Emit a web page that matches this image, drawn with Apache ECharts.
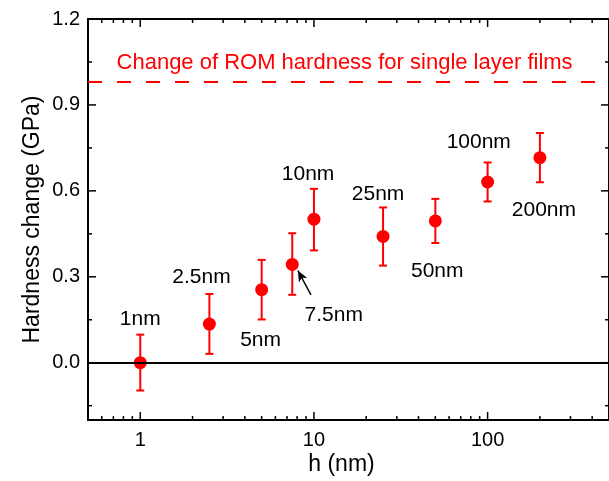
<!DOCTYPE html>
<html>
<head>
<meta charset="utf-8">
<script src="https://cdn.jsdelivr.net/npm/echarts@6/dist/echarts.min.js"></script>
<style>html,body{margin:0;padding:0;background:#fff}#chart{width:609px;height:481px}</style>
</head>
<body>
<div id="chart"></div>
<script>
// ---- data ----
const hValues   = [1, 2.5, 5, 7.5, 10, 25, 50, 100, 200];
const hardness  = [0.0, 0.135, 0.255, 0.343, 0.501, 0.441, 0.495, 0.631, 0.716];
const errUpper  = [0.098, 0.240, 0.359, 0.452, 0.607, 0.542, 0.572, 0.699, 0.802];
const errLower  = [-0.097, 0.031, 0.151, 0.237, 0.392, 0.339, 0.418, 0.563, 0.630];
const pointLabels = ['1nm', '2.5nm', '5nm', '7.5nm', '10nm', '25nm', '50nm', '100nm', '200nm'];
const labelAtH  = [1, 2.25, 4.93, 13.0, 9.25, 23.4, 51.3, 88.9, 211];
const labelAtY  = [0.153, 0.30, 0.077, 0.167, 0.659, 0.590, 0.321, 0.769, 0.532];
const romHardness = 0.98;
const romLabel = 'Change of ROM hardness for single layer films';
const romLabelAt = [0.73, 1.047];
const arrowFrom = [9.61, 0.237];
const arrowTo   = [8.08, 0.322];
const xMajorTicks = [1, 10, 100];
const xTickLabels = ['1', '10', '100'];
const xMinorTicks = [0.6, 0.7, 0.8, 0.9, 2, 3, 4, 5, 6, 7, 8, 9, 20, 30, 40, 50, 60, 70, 80, 90, 200, 300, 400];
const yMajorTicks = [0, 0.3, 0.6, 0.9, 1.2];
const yTickLabels = ['0.0', '0.3', '0.6', '0.9', '1.2'];
const yMinorTicks = [-0.15, 0.15, 0.45, 0.75, 1.05];
const xTitle = 'h (nm)';
const yTitle = 'Hardness change (GPa)';

// ---- chart ----
const FONT = '"Liberation Sans", Arial, Helvetica, sans-serif';
const RED = '#ff0000';
const chart = echarts.init(document.getElementById('chart'), null, {renderer: 'canvas'});

function xTickItem(major) {
  return function (params, api) {
    const cs = params.coordSys;
    const x = api.coord([api.value(0), 0])[0];
    const len = major ? 8 : 4;
    const bottom = cs.y + cs.height;
    const kids = [
      {type: 'line', shape: {x1: x, y1: bottom, x2: x, y2: bottom - len}, style: {stroke: '#000', lineWidth: 1.5}},
      {type: 'line', shape: {x1: x, y1: cs.y, x2: x, y2: cs.y + len}, style: {stroke: '#000', lineWidth: 1.5}}
    ];
    if (major) {
      kids.push({type: 'text', x: x, y: bottom + 20,
        style: {text: xTickLabels[params.dataIndex], font: '20px ' + FONT, fill: '#000', align: 'center', verticalAlign: 'middle'}});
    }
    return {type: 'group', children: kids};
  };
}
function yTickItem(major) {
  return function (params, api) {
    const cs = params.coordSys;
    const y = api.coord([1, api.value(1)])[1];
    const len = major ? 8 : 4;
    const right = cs.x + cs.width;
    const kids = [
      {type: 'line', shape: {x1: cs.x, y1: y, x2: cs.x + len, y2: y}, style: {stroke: '#000', lineWidth: 1.5}},
      {type: 'line', shape: {x1: right, y1: y, x2: right - len, y2: y}, style: {stroke: '#000', lineWidth: 1.5}}
    ];
    if (major) {
      kids.push({type: 'text', x: cs.x - 8, y: y,
        style: {text: yTickLabels[params.dataIndex], font: '20px ' + FONT, fill: '#000', align: 'right', verticalAlign: 'middle'}});
    }
    return {type: 'group', children: kids};
  };
}

const option = {
  animation: false,
  backgroundColor: '#fff',
  grid: {left: 88, top: 19, width: 528, height: 401, show: true, borderColor: '#000', borderWidth: 2, backgroundColor: 'transparent'},
  xAxis: {
    type: 'log', logBase: 10, min: 0.5, max: 500,
    axisLine: {show: false}, axisTick: {show: false}, axisLabel: {show: false}, splitLine: {show: false},
    name: xTitle, nameLocation: 'middle', nameGap: 33,
    nameTextStyle: {fontSize: 23, fontFamily: FONT, color: '#000', padding: [0, 14, 0, 0]}
  },
  yAxis: {
    type: 'value', min: -0.2, max: 1.2,
    axisLine: {show: false}, axisTick: {show: false}, axisLabel: {show: false}, splitLine: {show: false},
    name: yTitle, nameLocation: 'middle', nameGap: 44,
    nameTextStyle: {fontSize: 23, fontFamily: FONT, color: '#000'}
  },
  series: [
    {
      type: 'custom', name: 'xMajor', coordinateSystem: 'cartesian2d', silent: true,
      data: xMajorTicks.map(v => [v, 0]), renderItem: xTickItem(true), z: 5
    },
    {
      type: 'custom', name: 'xMinor', coordinateSystem: 'cartesian2d', silent: true,
      data: xMinorTicks.map(v => [v, 0]), renderItem: xTickItem(false), z: 5
    },
    {
      type: 'custom', name: 'yMajor', coordinateSystem: 'cartesian2d', silent: true,
      data: yMajorTicks.map(v => [1, v]), renderItem: yTickItem(true), z: 5
    },
    {
      type: 'custom', name: 'yMinor', coordinateSystem: 'cartesian2d', silent: true,
      data: yMinorTicks.map(v => [1, v]), renderItem: yTickItem(false), z: 5
    },
    {
      type: 'custom', name: 'errorbars', coordinateSystem: 'cartesian2d', silent: true, z: 3,
      data: hValues.map((h, i) => [h, errLower[i], errUpper[i]]),
      renderItem: function (params, api) {
        const lo = api.coord([api.value(0), api.value(1)]);
        const hi = api.coord([api.value(0), api.value(2)]);
        const w = 4;
        const st = {stroke: RED, lineWidth: 2};
        return {type: 'group', children: [
          {type: 'line', shape: {x1: lo[0], y1: lo[1], x2: hi[0], y2: hi[1]}, style: st},
          {type: 'line', shape: {x1: lo[0] - w, y1: lo[1], x2: lo[0] + w, y2: lo[1]}, style: st},
          {type: 'line', shape: {x1: hi[0] - w, y1: hi[1], x2: hi[0] + w, y2: hi[1]}, style: st}
        ]};
      }
    },
    {
      type: 'scatter', name: 'hardness', z: 4, silent: true,
      symbol: 'circle', symbolSize: 13,
      itemStyle: {color: RED, opacity: 1},
      data: hValues.map((h, i) => [h, hardness[i]]),
      markLine: {
        silent: true, symbol: 'none', label: {show: false},
        data: [
          {yAxis: 0, lineStyle: {color: '#000', type: 'solid', width: 2}},
          {yAxis: romHardness, lineStyle: {color: RED, type: [14, 15], width: 2}}
        ]
      }
    },
    {
      type: 'scatter', name: 'arrow', silent: true, data: [], symbolSize: 0,
      markLine: {
        silent: true, symbol: ['none', 'arrow'], symbolSize: [7, 11], label: {show: false},
        lineStyle: {color: '#000', type: 'solid', width: 1.5},
        data: [[{coord: arrowFrom}, {coord: arrowTo}]]
      }
    },
    {
      type: 'custom', name: 'labels', coordinateSystem: 'cartesian2d', silent: true, z: 6,
      data: pointLabels.map((t, i) => [labelAtH[i], labelAtY[i]]),
      renderItem: function (params, api) {
        const p = api.coord([api.value(0), api.value(1)]);
        return {type: 'text', x: p[0], y: p[1],
          style: {text: pointLabels[params.dataIndex], font: '21px ' + FONT, fill: '#000', align: 'center', verticalAlign: 'middle'}};
      }
    },
    {
      type: 'custom', name: 'romLabel', coordinateSystem: 'cartesian2d', silent: true, z: 6,
      data: [romLabelAt],
      renderItem: function (params, api) {
        const p = api.coord([api.value(0), api.value(1)]);
        return {type: 'text', x: p[0], y: p[1],
          style: {text: romLabel, font: '22px ' + FONT, fill: RED, align: 'left', verticalAlign: 'middle'}};
      }
    }
  ]
};
chart.setOption(option);
</script>
</body>
</html>
